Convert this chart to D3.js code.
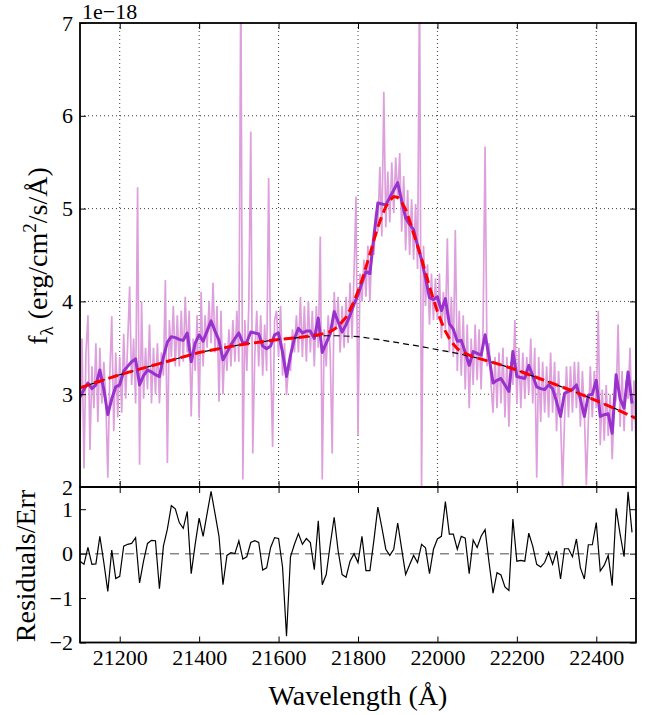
<!DOCTYPE html>
<html>
<head>
<meta charset="utf-8">
<script src="https://cdn.jsdelivr.net/npm/d3@7"></script>
<style>
  body { margin: 0; background: #fff; }
  svg text { font-family: "Liberation Serif", "DejaVu Serif", "Times New Roman", Times, serif; fill: #000; }
</style>
</head>
<body>
<div id="chart"></div>
<script>
// raw spectrum, one value every 5 A from 21100
const spectrumStart = 21100, spectrumStep = 5;
const spectrumFlux = [
  2.55, 3.60, 2.20, 3.45, 3.85, 2.40, 3.30, 2.85, 3.55, 2.70,
  3.50, 2.90, 3.35, 2.95, 2.10, 3.20, 3.84, 2.60, 3.45, 2.75,
  3.40, 2.80, 3.65, 2.95, 3.55, 4.16, 3.10, 3.60, 2.90, 5.23,
  2.24, 4.00, 2.95, 3.50, 3.05, 3.75, 2.90, 3.50, 3.00, 3.55,
  2.90, 3.45, 3.20, 4.23, 2.26, 3.80, 3.40, 3.95, 3.30, 3.85,
  3.30, 3.90, 3.35, 4.05, 3.45, 3.90, 2.76, 3.60, 3.25, 3.85,
  2.74, 4.10, 3.30, 3.85, 3.50, 4.00, 3.55, 4.20, 3.45, 3.95,
  2.92, 3.90, 3.00, 3.55, 3.25, 3.70, 3.30, 3.80, 3.35, 3.90,
  3.35, 7.50, 2.08, 3.80, 3.25, 3.95, 5.83, 2.36, 3.40, 3.90,
  3.30, 3.85, 3.20, 3.75, 3.25, 5.33, 3.40, 2.43, 3.80, 3.90,
  3.40, 3.95, 3.20, 3.55, 2.99, 3.30, 3.25, 3.70, 3.45, 3.85,
  3.45, 4.05, 3.40, 3.95, 3.35, 4.00, 3.45, 3.90, 3.30, 3.95,
  3.50, 4.70, 2.08, 3.70, 3.30, 3.85, 3.45, 2.36, 4.10, 3.70,
  4.05, 3.45, 3.95, 3.50, 4.05, 3.55, 4.20, 3.60, 4.30, 5.13,
  2.56, 4.30, 4.00, 4.45, 4.05, 4.60, 4.00, 4.60, 4.50, 4.95,
  4.75, 5.45, 4.70, 6.26, 4.80, 5.40, 4.85, 5.50, 4.95, 5.55,
  5.10, 5.60, 4.75, 5.35, 4.55, 5.20, 4.50, 5.10, 4.45, 5.05,
  4.35, 7.50, 2.00, 4.60, 3.95, 4.40, 3.75, 4.30, 3.80, 4.25,
  3.80, 4.30, 3.60, 4.10, 3.70, 4.68, 3.45, 4.05, 3.40, 4.77,
  3.25, 3.90, 3.20, 3.85, 3.05, 3.75, 2.85, 3.60, 3.10, 3.75,
  3.15, 3.70, 3.05, 3.75, 5.67, 3.30, 3.55, 3.10, 2.80, 3.40,
  2.85, 3.45, 2.90, 3.50, 2.75, 3.40, 2.65, 3.35, 3.10, 3.80,
  2.90, 3.50, 2.85, 3.45, 2.95, 3.40, 3.00, 3.60, 2.90, 3.50,
  2.10, 3.40, 2.70, 3.35, 2.80, 3.30, 2.75, 3.45, 2.80, 3.35,
  2.60, 3.25, 2.75, 2.00, 2.70, 3.30, 2.75, 3.30, 2.80, 3.35,
  2.85, 3.35, 2.65, 3.25, 2.80, 2.02, 2.70, 3.30, 2.75, 3.25,
  2.85, 3.90, 2.45, 3.05, 2.50, 3.10, 2.55, 3.00, 2.30, 2.85,
  2.95, 3.75, 2.65, 3.25, 2.60, 3.15, 2.95, 3.50, 2.60, 3.15,
  2.45
];

// binned spectrum and residuals, one value every 10 A from 21100
const binStart = 21100, binStep = 10;
const binnedFlux = [
  2.97, 3.05, 3.12, 3.06, 3.10, 3.26, 3.05, 2.78, 2.95, 3.08,
  3.10, 3.25, 3.30, 3.35, 3.38, 3.10, 3.20, 3.26, 3.24, 3.21,
  3.19, 3.40, 3.56, 3.62, 3.61, 3.59, 3.58, 3.66, 3.35, 3.55,
  3.64, 3.57, 3.68, 3.79, 3.68, 3.58, 3.37, 3.45, 3.53, 3.60,
  3.66, 3.55, 3.56, 3.67, 3.66, 3.65, 3.52, 3.49, 3.52, 3.64,
  3.66, 3.45, 3.19, 3.42, 3.60, 3.71, 3.66, 3.68, 3.68, 3.60,
  3.82, 3.45, 3.55, 3.65, 3.89, 3.78, 3.67, 3.75, 3.85, 3.97,
  4.07, 4.20, 4.32, 4.30, 4.70, 5.06, 5.05, 5.04, 5.12, 5.20,
  5.28, 5.08, 4.90, 4.83, 4.77, 4.60, 4.45, 4.25, 4.04, 4.02,
  4.05, 3.90, 4.03, 3.76, 3.70, 3.57, 3.58, 3.45, 3.31, 3.46,
  3.44, 3.42, 3.64, 3.40, 3.12, 3.15, 3.17, 3.10, 3.03, 3.46,
  3.19, 3.18, 3.17, 3.31, 3.20, 3.08, 3.06, 3.05, 3.10, 3.06,
  2.92, 2.76, 3.01, 3.03, 3.05, 3.10, 2.95, 2.76, 2.99, 3.00,
  3.15, 2.76, 2.78, 2.79, 2.58, 3.21, 2.95, 2.85, 3.24, 2.90
];
const residuals = [
  -0.17, -0.24, 0.14, -0.24, -0.23, 0.39, -0.20, -0.85, 0.08, -0.56,
  -0.51, 0.17, 0.21, 0.23, 0.36, -0.66, -0.17, 0.23, 0.30, 0.29,
  -0.79, 0.17, 0.55, 1.08, 1.01, 0.70, 0.57, 0.95, -0.45, 0.21,
  0.80, 0.39, 0.90, 1.40, 0.90, 0.39, -0.70, -0.04, 0.02, 0.00,
  0.29, -0.12, -0.07, 0.25, 0.29, 0.25, -0.37, -0.32, 0.14, 0.36,
  0.34, -0.30, -1.86, -0.07, 0.21, 0.45, 0.21, 0.34, 0.25, -0.36,
  0.74, -0.70, -0.47, 0.20, 0.82, 0.06, -0.47, -0.53, -0.17, 0.00,
  -0.20, 0.39, -0.38, -0.38, 0.30, 1.05, 0.59, 0.10, -0.04, 0.10,
  0.69, 0.10, -0.47, -0.25, -0.04, -0.20, 0.21, 0.13, -0.45, 0.10,
  0.33, 0.39, 1.17, 0.44, 0.44, 0.10, 0.39, 0.35, -0.45, 0.31,
  0.14, 0.39, 0.54, -0.20, -0.89, -0.43, -0.48, -0.75, -0.83, 0.78,
  -0.17, -0.15, -0.17, 0.46, 0.17, -0.24, -0.30, -0.20, 0.03, -0.24,
  0.06, -0.57, 0.11, 0.11, -0.07, 0.33, -0.32, -0.57, 0.20, 0.20,
  0.70, -0.39, -0.26, -0.04, -0.72, 1.02, 0.44, -0.07, 1.39, 0.48
];

// continuum (black dashed)
const continuumWave = [21100, 21150, 21200, 21250, 21300, 21350, 21400, 21450, 21500, 21550,
  21600, 21650, 21700, 21750, 21800, 21850, 21900, 21950, 22000, 22050,
  22100, 22150, 22200, 22250, 22300, 22350, 22400, 22450, 22500];
const continuumFlux = [3.07, 3.14, 3.21, 3.27, 3.33, 3.39, 3.45, 3.49, 3.53, 3.56,
  3.59, 3.61, 3.63, 3.63, 3.62, 3.59, 3.555, 3.52, 3.48, 3.44,
  3.39, 3.33, 3.26, 3.18, 3.10, 3.02, 2.93, 2.84, 2.74];

// full model (red dashed)
const modelWave = [21100, 21150, 21200, 21250, 21300, 21350, 21400, 21450, 21500, 21550, 21600, 21650,
  21700, 21710, 21720, 21730, 21740, 21750, 21760, 21770, 21780, 21790,
  21800, 21810, 21820, 21830, 21840, 21850, 21860, 21870, 21880, 21890,
  21900, 21910, 21920, 21930, 21940, 21950, 21960, 21970, 21980, 21990,
  22000, 22010, 22020, 22030, 22040, 22050, 22060, 22070, 22080, 22090,
  22100, 22150, 22200, 22250, 22300, 22350, 22400, 22450, 22500];
const modelFlux = [3.07, 3.14, 3.21, 3.27, 3.33, 3.39, 3.45, 3.49, 3.53, 3.56, 3.59, 3.61,
  3.64, 3.65, 3.66, 3.675, 3.70, 3.73, 3.78, 3.83, 3.91, 4.00,
  4.11, 4.23, 4.37, 4.51, 4.66, 4.80, 4.92, 5.02, 5.09, 5.13,
  5.12, 5.07, 4.99, 4.87, 4.73, 4.60, 4.46, 4.31, 4.16, 4.02,
  3.89, 3.78, 3.68, 3.60, 3.54, 3.49, 3.46, 3.44, 3.42, 3.405,
  3.39, 3.33, 3.26, 3.18, 3.10, 3.02, 2.93, 2.84, 2.74];

const xTicks = [21200, 21400, 21600, 21800, 22000, 22200, 22400];
const fluxTicks = [2, 3, 4, 5, 6, 7];
const residTicks = [-2, -1, 0, 1];

const width = 656, height = 715;
const left = 80, right = 636, topY = 23, midY = 487, botY = 642.5;
const serif = "'Liberation Serif', 'DejaVu Serif', 'Times New Roman', Times, serif";

const svg = d3.select("#chart").append("svg")
    .attr("width", width)
    .attr("height", height)
    .attr("font-family", serif);

const x = d3.scaleLinear().domain([21100, 22500]).range([left, right]);
const yF = d3.scaleLinear().domain([2, 7]).range([midY, topY]);
const yR = d3.scaleLinear().domain([-2, 1.5]).range([botY, midY]);

svg.append("clipPath").attr("id", "clipTop")
  .append("rect").attr("x", left).attr("y", topY)
  .attr("width", right - left).attr("height", midY - topY);
svg.append("clipPath").attr("id", "clipBot")
  .append("rect").attr("x", left).attr("y", midY)
  .attr("width", right - left).attr("height", botY - midY);

// dotted grid, top panel only
const grid = svg.append("g").attr("stroke", "#000").attr("stroke-width", 1)
  .attr("stroke-dasharray", "1,3").attr("opacity", 0.75);
grid.selectAll(".vx").data(xTicks).join("line")
  .attr("x1", d => x(d)).attr("x2", d => x(d))
  .attr("y1", topY).attr("y2", midY);
grid.selectAll(".hy").data(fluxTicks.filter(d => d > 2 && d < 7)).join("line")
  .attr("x1", left).attr("x2", right)
  .attr("y1", d => yF(d)).attr("y2", d => yF(d));

const topPanel = svg.append("g").attr("clip-path", "url(#clipTop)");

topPanel.append("path")
  .datum(spectrumFlux)
  .attr("fill", "none")
  .attr("stroke", "#dda0dd")
  .attr("stroke-width", 1.7)
  .attr("d", d3.line().x((d, i) => x(spectrumStart + i * spectrumStep)).y(d => yF(d)));

topPanel.append("path")
  .datum(binnedFlux)
  .attr("fill", "none")
  .attr("stroke", "#9932cc")
  .attr("stroke-width", 3)
  .attr("stroke-linejoin", "round")
  .attr("d", d3.line().x((d, i) => x(binStart + i * binStep)).y(d => yF(d)));

topPanel.append("path")
  .datum(d3.zip(continuumWave, continuumFlux))
  .attr("fill", "none")
  .attr("stroke", "#000")
  .attr("stroke-width", 1.2)
  .attr("stroke-dasharray", "6,4")
  .attr("d", d3.line().x(d => x(d[0])).y(d => yF(d[1])));

topPanel.append("path")
  .datum(d3.zip(modelWave, modelFlux))
  .attr("fill", "none")
  .attr("stroke", "#ff0000")
  .attr("stroke-width", 3)
  .attr("stroke-dasharray", "10,5")
  .attr("d", d3.line().x(d => x(d[0])).y(d => yF(d[1])));

// residual panel
const botPanel = svg.append("g").attr("clip-path", "url(#clipBot)");
botPanel.append("line")
  .attr("x1", left).attr("x2", right)
  .attr("y1", yR(0)).attr("y2", yR(0))
  .attr("stroke", "#888").attr("stroke-width", 1.5)
  .attr("stroke-dasharray", "9,6");
botPanel.append("path")
  .datum(residuals)
  .attr("fill", "none")
  .attr("stroke", "#000")
  .attr("stroke-width", 1.2)
  .attr("d", d3.line().x((d, i) => x(binStart + i * binStep)).y(d => yR(d)));

// axes (inward ticks on all sides)
function styleAxis(g) {
  g.attr("font-family", serif).attr("font-size", 22);
  g.select(".domain").remove();
  g.selectAll(".tick line").attr("stroke", "#000").attr("stroke-width", 1);
  g.selectAll("text").attr("fill", "#000");
}
const fmt = d3.format("d");

svg.append("g").attr("transform", `translate(${left},0)`)
  .call(d3.axisLeft(yF).tickValues(fluxTicks).tickSize(-6).tickPadding(7).tickFormat(fmt))
  .call(styleAxis);
svg.append("g").attr("transform", `translate(${right},0)`)
  .call(d3.axisRight(yF).tickValues(fluxTicks).tickSize(-6).tickFormat(""))
  .call(styleAxis);
svg.append("g").attr("transform", `translate(0,${topY})`)
  .call(d3.axisTop(x).tickValues(xTicks).tickSize(-6).tickFormat(""))
  .call(styleAxis);
svg.append("g").attr("transform", `translate(0,${midY})`)
  .call(d3.axisBottom(x).tickValues(xTicks).tickSize(-6).tickFormat(""))
  .call(styleAxis);

svg.append("g").attr("transform", `translate(${left},0)`)
  .call(d3.axisLeft(yR).tickValues(residTicks).tickSize(-6).tickPadding(7).tickFormat(fmt))
  .call(styleAxis);
svg.append("g").attr("transform", `translate(${right},0)`)
  .call(d3.axisRight(yR).tickValues(residTicks).tickSize(-6).tickFormat(""))
  .call(styleAxis);
svg.append("g").attr("transform", `translate(0,${midY})`)
  .call(d3.axisTop(x).tickValues(xTicks).tickSize(-6).tickFormat(""))
  .call(styleAxis);
svg.append("g").attr("transform", `translate(0,${botY})`)
  .call(d3.axisBottom(x).tickValues(xTicks).tickSize(-6).tickPadding(7).tickFormat(fmt))
  .call(styleAxis);

// frames
[[topY, midY], [midY, botY]].forEach(([a, b]) => {
  svg.append("rect")
    .attr("x", left).attr("y", a)
    .attr("width", right - left).attr("height", b - a)
    .attr("fill", "none").attr("stroke", "#000").attr("stroke-width", 1.8);
});

// offset text
svg.append("text").attr("x", 82).attr("y", 19)
  .attr("font-size", 22).text("1e\u221218");

// axis labels
const yl = svg.append("text")
  .attr("transform", "translate(47,256) rotate(-90)")
  .attr("text-anchor", "middle")
  .attr("font-size", 28);
yl.append("tspan").text("f");
yl.append("tspan").attr("dy", 6).attr("font-size", 19).text("\u03bb");
yl.append("tspan").attr("dy", -6).text(" (erg/cm");
yl.append("tspan").attr("dy", -11).attr("font-size", 19).text("2");
yl.append("tspan").attr("dy", 11).text("/s/\u00c5)");

svg.append("text")
  .attr("transform", "translate(35,566) rotate(-90)")
  .attr("text-anchor", "middle")
  .attr("font-size", 28)
  .text("Residuals/Err");

svg.append("text")
  .attr("x", (left + right) / 2).attr("y", 705)
  .attr("text-anchor", "middle")
  .attr("font-size", 28)
  .text("Wavelength (\u00c5)");
</script>
</body>
</html>
